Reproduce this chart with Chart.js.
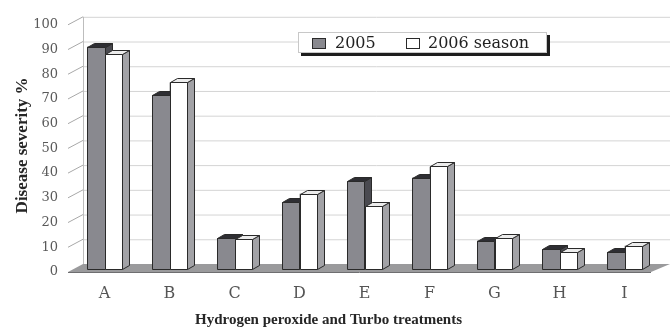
<!DOCTYPE html>
<html>
<head>
<meta charset="utf-8">
<script src="https://cdn.jsdelivr.net/npm/chart.js@4.4.1/dist/chart.umd.min.js"></script>
<style>
  html, body { margin: 0; padding: 0; background: #ffffff; }
  #wrap { width: 671px; height: 330px; }
</style>
</head>
<body>
<div id="wrap"><canvas id="chart" width="671" height="330"></canvas></div>
<script>
// Treatments on the category axis
const treatments = ['A', 'B', 'C', 'D', 'E', 'F', 'G', 'H', 'I'];
// Disease severity (%) per treatment and season
const severity2005 = [90, 70.5, 12.5, 27, 35.5, 37, 11.5, 8, 7];
const severity2006 = [87, 75.5, 12, 30.5, 25.5, 41.5, 12.5, 7, 9.5];
const seriesNames = ['2005', '2006 season'];
// Value axis
const yMin = 0, yMax = 100, yStep = 10;

const xTitle = 'Hydrogen peroxide and Turbo treatments';
const yTitle = 'Disease severity %';

// Face colours for each series: front, top, side
const faces = [
  { front: '#89898f', top: '#2e2e33', side: '#4a4a50' },
  { front: '#ffffff', top: '#ececec', side: '#a2a2a6' }
];
const edge = '#2a2a2a';

// Depth geometry of the pseudo-3D scene (pixels)
const geo = {
  frontDx: -4, frontDy: 3,   // front floor edge relative to the bar plane
  wallDx: 11, wallDy: -5,    // back wall relative to the bar plane
  barDx: 7, barDy: -4        // depth of each bar
};

// Floor, side wall ticks and back-wall gridlines
const scenery = {
  id: 'scenery',
  beforeDatasetsDraw(chart) {
    const { ctx, chartArea: a, scales: { y } } = chart;
    const fl = a.left + geo.frontDx, fr = a.right + geo.frontDx - 2;
    const bl = a.left + geo.wallDx, br = a.right + geo.wallDx + 2;
    const y0 = y.getPixelForValue(yMin);
    ctx.save();
    // back-wall gridlines with slanted side-wall segments
    ctx.lineWidth = 1;
    for (let v = yMin + yStep; v <= yMax; v += yStep) {
      const py = y.getPixelForValue(v);
      ctx.strokeStyle = '#a8a8a8';
      ctx.beginPath();
      ctx.moveTo(fl, py + geo.frontDy);
      ctx.lineTo(bl, py + geo.wallDy);
      ctx.stroke();
      ctx.strokeStyle = '#d4d4d4';
      ctx.beginPath();
      ctx.moveTo(bl, py + geo.wallDy + 0.5);
      ctx.lineTo(br, py + geo.wallDy + 0.5);
      ctx.stroke();
    }
    // left edge of the back wall
    ctx.strokeStyle = '#bdbdbd';
    ctx.beginPath();
    ctx.moveTo(bl + 0.5, y.getPixelForValue(yMax) + geo.wallDy);
    ctx.lineTo(bl + 0.5, y0 + geo.wallDy);
    ctx.stroke();
    // floor
    ctx.fillStyle = '#9a9a9c';
    ctx.beginPath();
    ctx.moveTo(fl, y0 + geo.frontDy);
    ctx.lineTo(fr, y0 + geo.frontDy);
    ctx.lineTo(br, y0 + geo.wallDy);
    ctx.lineTo(bl, y0 + geo.wallDy);
    ctx.closePath();
    ctx.fill();
    ctx.strokeStyle = '#6e6e70';
    ctx.beginPath();
    ctx.moveTo(fl, y0 + geo.frontDy + 0.5);
    ctx.lineTo(fr, y0 + geo.frontDy + 0.5);
    ctx.stroke();
    ctx.restore();
  }
};

// Extruded bars: front, top and side faces built from each bar element
const extrude = {
  id: 'extrude',
  afterDatasetsDraw(chart) {
    const ctx = chart.ctx;
    const metas = [chart.getDatasetMeta(0), chart.getDatasetMeta(1)];
    ctx.save();
    ctx.lineWidth = 1;
    ctx.lineJoin = 'round';
    ctx.strokeStyle = edge;
    for (let i = 0; i < treatments.length; i++) {
      metas.forEach((meta, d) => {
        const el = meta.data[i];
        const { x, y, base, width } = el.getProps(['x', 'y', 'base', 'width'], true);
        const l = Math.round(x - width / 2) + 0.5;
        const r = Math.round(x + width / 2) + 0.5;
        const t = Math.round(y) + 0.5;
        const b = Math.round(base) + 0.5;
        const c = faces[d];
        // side face
        ctx.fillStyle = c.side;
        ctx.beginPath();
        ctx.moveTo(r, t);
        ctx.lineTo(r + geo.barDx, t + geo.barDy);
        ctx.lineTo(r + geo.barDx, b + geo.barDy);
        ctx.lineTo(r, b);
        ctx.closePath();
        ctx.fill(); ctx.stroke();
        // top face
        ctx.fillStyle = c.top;
        ctx.beginPath();
        ctx.moveTo(l, t);
        ctx.lineTo(l + geo.barDx, t + geo.barDy);
        ctx.lineTo(r + geo.barDx, t + geo.barDy);
        ctx.lineTo(r, t);
        ctx.closePath();
        ctx.fill(); ctx.stroke();
        // front face
        ctx.fillStyle = c.front;
        ctx.fillRect(l, t, r - l, b - t);
        ctx.strokeRect(l, t, r - l, b - t);
      });
    }
    ctx.restore();
  }
};

// Boxed legend with a drop shadow
const boxedLegend = {
  id: 'boxedLegend',
  afterDraw(chart) {
    const ctx = chart.ctx;
    const bx = 298, by = 32, bw = 249, bh = 21;
    ctx.save();
    ctx.fillStyle = '#1e1e1e';
    ctx.fillRect(bx + 3, by + bh, bw, 3);
    ctx.fillRect(bx + bw, by + 3, 3, bh);
    ctx.fillStyle = '#ffffff';
    ctx.fillRect(bx, by, bw, bh);
    ctx.strokeStyle = '#c8c8c8';
    ctx.lineWidth = 1;
    ctx.strokeRect(bx + 0.5, by + 0.5, bw - 1, bh - 1);
    ctx.font = '16px "DejaVu Serif"';
    ctx.textBaseline = 'middle';
    const items = [
      { sx: 312, tx: 335, face: faces[0] },
      { sx: 406, tx: 428, face: faces[1] }
    ];
    items.forEach((it, k) => {
      ctx.fillStyle = it.face.front;
      ctx.fillRect(it.sx + 0.5, by + 6.5, 13, 10);
      ctx.strokeStyle = edge;
      ctx.strokeRect(it.sx + 0.5, by + 6.5, 13, 10);
      ctx.fillStyle = '#222';
      ctx.fillText(seriesNames[k], it.tx, by + bh / 2 + 1);
    });
    ctx.restore();
  }
};

new Chart(document.getElementById('chart'), {
  type: 'bar',
  data: {
    labels: treatments,
    datasets: [
      { label: seriesNames[0], data: severity2005, backgroundColor: faces[0].front,
        borderColor: edge, borderWidth: 1, borderSkipped: false },
      { label: seriesNames[1], data: severity2006, backgroundColor: faces[1].front,
        borderColor: edge, borderWidth: 1, borderSkipped: false }
    ]
  },
  options: {
    responsive: false,
    animation: false,
    devicePixelRatio: 1,
    layout: { padding: { top: 17, right: 14, bottom: 0, left: 0 } },
    plugins: {
      legend: { display: false },
      tooltip: { enabled: false },
      // category-axis caption, centred under the whole figure
      title: {
        display: true, position: 'bottom', text: xTitle, color: '#262626',
        font: { family: 'Liberation Serif', size: 15, weight: 'bold' },
        padding: { top: 4, bottom: 1 }
      }
    },
    datasets: { bar: { categoryPercentage: 0.54, barPercentage: 1.0 } },
    scales: {
      x: {
        grid: { display: false, drawTicks: false },
        border: { display: false },
        ticks: { color: '#555', font: { family: 'DejaVu Serif', size: 16 }, padding: 15 },
        afterFit(scale) { scale.height = 38; }
      },
      y: {
        min: yMin, max: yMax,
        grid: { display: false, drawTicks: false },
        border: { display: false },
        ticks: { stepSize: yStep, color: '#5a5a5a', labelOffset: 3,
                 font: { family: 'DejaVu Serif', size: 13 }, padding: 14 },
        title: { display: true, text: yTitle, color: '#262626',
                 font: { family: 'Liberation Serif', size: 17, weight: 'bold' },
                 padding: { top: 12, bottom: 0 } },
        afterFit(scale) { scale.width = 72; }
      }
    }
  },
  plugins: [scenery, extrude, boxedLegend]
});
</script>
</body>
</html>
